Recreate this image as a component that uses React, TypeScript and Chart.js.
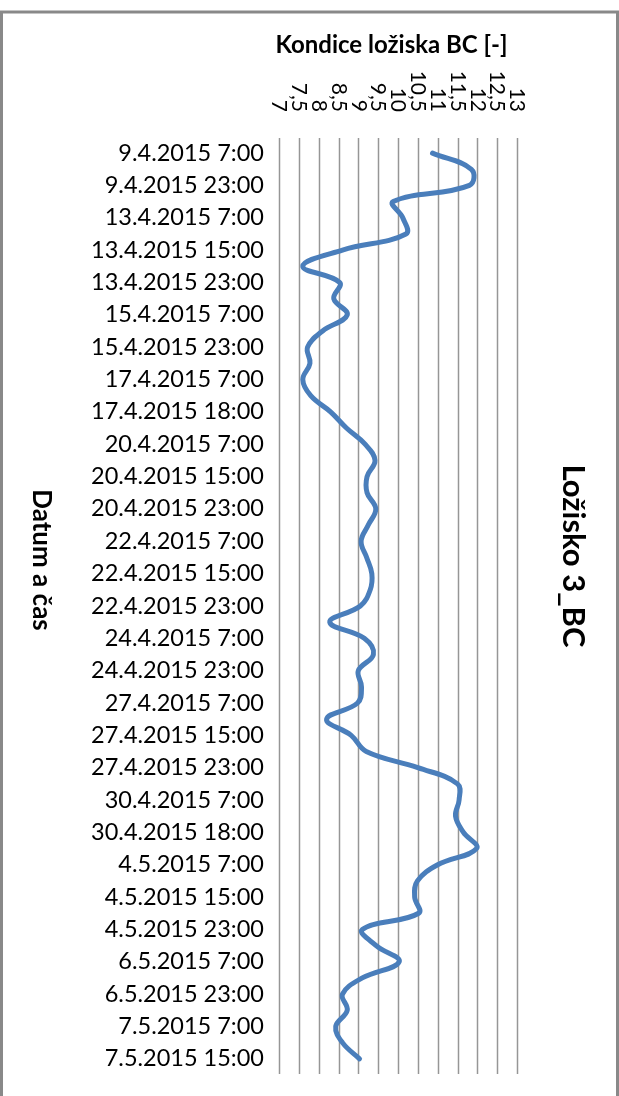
import React, { useEffect, useRef } from "react";
import { Chart, registerables } from "chart.js";

Chart.register(...registerables);

// Category labels shown on the axis (every second category is labelled)
const shownLabels = [
  "9.4.2015 7:00",
  "9.4.2015 23:00",
  "13.4.2015 7:00",
  "13.4.2015 15:00",
  "13.4.2015 23:00",
  "15.4.2015 7:00",
  "15.4.2015 23:00",
  "17.4.2015 7:00",
  "17.4.2015 18:00",
  "20.4.2015 7:00",
  "20.4.2015 15:00",
  "20.4.2015 23:00",
  "22.4.2015 7:00",
  "22.4.2015 15:00",
  "22.4.2015 23:00",
  "24.4.2015 7:00",
  "24.4.2015 23:00",
  "27.4.2015 7:00",
  "27.4.2015 15:00",
  "27.4.2015 23:00",
  "30.4.2015 7:00",
  "30.4.2015 18:00",
  "4.5.2015 7:00",
  "4.5.2015 15:00",
  "4.5.2015 23:00",
  "6.5.2015 7:00",
  "6.5.2015 23:00",
  "7.5.2015 7:00",
  "7.5.2015 15:00",
];

// Bearing condition values (one per category, 57 points)
const conditionValues = [
  10.87, 11.85, 11.8, 9.88, 10.12, 10.2, 8.6, 7.6, 8.53, 8.38,
  8.72, 8.1, 7.72, 7.78, 7.6, 7.8, 8.3, 8.7, 9.17, 9.42,
  9.22, 9.22, 9.44, 9.25, 9.07, 9.21, 9.34, 9.3, 9.05, 8.28,
  9.15, 9.38, 9.0, 9.08, 8.98, 8.2, 8.82, 9.2, 10.5, 11.5,
  11.54, 11.45, 11.65, 11.98, 11.0, 10.49, 10.42, 10.52, 9.1, 9.45,
  10.03, 9.1, 8.6, 8.72, 8.43, 8.6, 9.03,
];

const valueTicks = [7, 7.5, 8, 8.5, 9, 9.5, 10, 10.5, 11, 11.5, 12, 12.5, 13];
const valueTickLabels = ["7", "7,5", "8", "8,5", "9", "9,5", "10", "10,5", "11", "11,5", "12", "12,5", "13"];

const chartTitle = "Ložisko 3_BC";
const valueAxisTitle = "Kondice ložiska BC [-]";
const categoryAxisTitle = "Datum a čas";

const categories = shownLabels.flatMap((l, i) =>
  i < shownLabels.length - 1 ? [l, ""] : [l]
);

const FONT = "Lato, 'Open Sans', sans-serif";

const decorPlugin = {
  id: "decor",
  beforeDatasetsDraw(chart: any) {
    const { ctx, chartArea } = chart;
    const xs = chart.scales.x;
    ctx.save();
    ctx.strokeStyle = "#969696";
    ctx.lineWidth = 1.5;
    valueTicks.forEach((v) => {
      const x = Math.round(xs.getPixelForValue(v)) + 0.5;
      ctx.beginPath();
      ctx.moveTo(x, chartArea.top - 7);
      ctx.lineTo(x, chartArea.bottom + 7);
      ctx.stroke();
    });
    ctx.restore();
  },
  afterDraw(chart: any) {
    const { ctx } = chart;
    const xs = chart.scales.x;
    ctx.save();
    ctx.fillStyle = "#000";
    // value tick labels, rotated clockwise
    ctx.font = `21px ${FONT}`;
    valueTicks.forEach((v, i) => {
      const x = xs.getPixelForValue(v);
      ctx.save();
      ctx.translate(x, 112);
      ctx.rotate(Math.PI / 2);
      ctx.textAlign = "right";
      ctx.textBaseline = "middle";
      ctx.fillText(valueTickLabels[i], 0, 0);
      ctx.restore();
    });
    // value axis title
    ctx.font = `bold 24px ${FONT}`;
    ctx.textAlign = "center";
    ctx.textBaseline = "alphabetic";
    ctx.fillText(valueAxisTitle, 391.5, 53);
    // chart title (right, rotated)
    ctx.save();
    ctx.translate(563, 556);
    ctx.rotate(Math.PI / 2);
    ctx.font = `bold 31px ${FONT}`;
    ctx.textAlign = "center";
    ctx.textBaseline = "alphabetic";
    ctx.fillText(chartTitle, 0, 0);
    ctx.restore();
    // category axis title (left, rotated)
    ctx.save();
    ctx.translate(33, 560);
    ctx.rotate(Math.PI / 2);
    ctx.font = `bold 26px ${FONT}`;
    ctx.textAlign = "center";
    ctx.textBaseline = "alphabetic";
    ctx.fillText(categoryAxisTitle, 0, 0);
    ctx.restore();
    // outer border
    ctx.strokeStyle = "#898989";
    ctx.lineWidth = 3;
    ctx.strokeRect(1.5, 12, 616, 1100);
    ctx.restore();
  },
};

export default function App() {
  const ref = useRef<HTMLCanvasElement | null>(null);
  useEffect(() => {
    if (!ref.current) return;
    const chart = new Chart(ref.current, {
      type: "line",
      data: {
        labels: categories,
        datasets: [
          {
            data: conditionValues,
            borderColor: "#4A7EBB",
            borderWidth: 5,
            pointRadius: 0,
            tension: 0.4,
            fill: false,
            borderCapStyle: "round",
            borderJoinStyle: "round",
          },
        ],
      },
      options: {
        indexAxis: "y",
        animation: false,
        responsive: false,
        maintainAspectRatio: false,
        devicePixelRatio: 1,
        layout: { padding: { top: 145, bottom: 26, right: 102, left: 0 } },
        plugins: {
          legend: { display: false },
          tooltip: { enabled: false },
          title: { display: false },
        },
        scales: {
          x: { type: "linear", position: "top", min: 7, max: 13, display: false },
          y: {
            type: "category",
            offset: true,
            grid: { display: false, drawTicks: false },
            border: { display: false },
            ticks: {
              autoSkip: false,
              color: "#000",
              padding: 15,
              font: { family: FONT, size: 23.5 },
            },
            afterFit: (s: any) => {
              s.width = 279;
            },
          },
        },
      },
      plugins: [decorPlugin],
    } as any);
    return () => chart.destroy();
  }, []);
  return (
    <div style={{ position: "absolute", left: 0, top: 0, width: 619, height: 1096, background: "#fff" }}>
      <canvas ref={ref} width={619} height={1096} style={{ display: "block" }} />
    </div>
  );
}
